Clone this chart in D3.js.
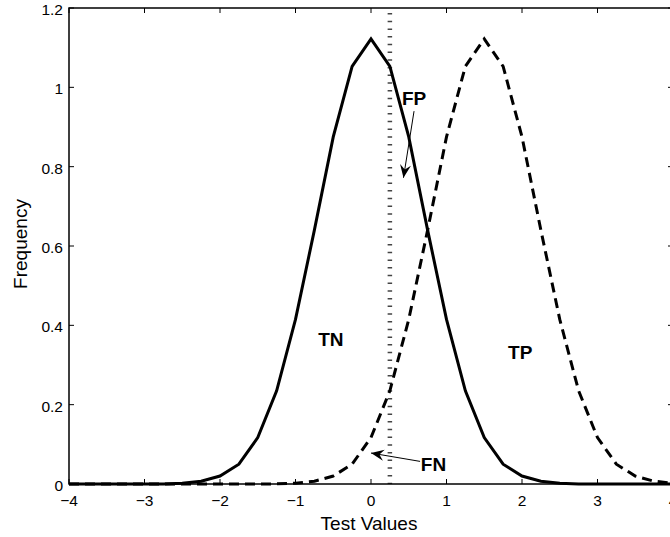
<!DOCTYPE html>
<html>
<head>
<meta charset="utf-8">
<script src="https://cdn.jsdelivr.net/npm/d3@7"></script>
<style>
  body { margin: 0; background: #fff; }
  svg { display: block; font-family: 'Liberation Sans', Arial, Helvetica, sans-serif; }
</style>
</head>
<body>
<div id="chart"></div>
<script>
'use strict';

// test values sampled every 0.25 from -4 to 4
const xValues = [
  -4, -3.75, -3.5, -3.25, -3, -2.75, -2.5, -2.25, -2, -1.75, -1.5, -1.25, -1,
  -0.75, -0.5, -0.25, 0, 0.25, 0.5, 0.75, 1, 1.25, 1.5, 1.75, 2, 2.25, 2.5,
  2.75, 3, 3.25, 3.5, 3.75, 4
];

// negative population (solid line)
const negFreq = [
  0, 0, 0, 0, 0.0001, 0.0003, 0.002, 0.007, 0.02, 0.05, 0.117, 0.235, 0.415,
  0.64, 0.875, 1.053, 1.122, 1.053, 0.875, 0.64, 0.415, 0.235, 0.117, 0.05,
  0.02, 0.007, 0.002, 0.0003, 0.0001, 0, 0, 0, 0
];

// positive population (dashed line)
const posFreq = [
  0, 0, 0, 0, 0, 0, 0, 0, 0, 0, 0.0001, 0.0003, 0.002, 0.007, 0.02, 0.05,
  0.117, 0.235, 0.415, 0.64, 0.875, 1.053, 1.122, 1.053, 0.875, 0.64, 0.415,
  0.235, 0.117, 0.05, 0.02, 0.007, 0.002
];

const threshold = 0.25;

const xTicks = [-4, -3, -2, -1, 0, 1, 2, 3, 4];
const yTicks = [0, 0.2, 0.4, 0.6, 0.8, 1, 1.2];

// region labels (data coordinates)
const labels = [
  { text: 'TN', x: -0.70, y: 0.347 },
  { text: 'TP', x: 1.815, y: 0.316 },
  { text: 'FP', x: 0.41, y: 0.955 },
  { text: 'FN', x: 0.66, y: 0.034 }
];

// annotation arrows: tail -> tip (data coordinates)
const arrows = [
  { x1: 0.57, y1: 0.94, x2: 0.43, y2: 0.772 },
  { x1: 0.65, y1: 0.057, x2: 0.0, y2: 0.078 }
];

const width = 670;
const height = 537;
const plot = { left: 69, right: 673, top: 8, bottom: 484 };

const svg = d3.select('#chart')
  .append('svg')
  .attr('width', width)
  .attr('height', height);

const xScale = d3.scaleLinear().domain([-4, 4]).range([plot.left, plot.right]);
const yScale = d3.scaleLinear().domain([0, 1.2]).range([plot.bottom, plot.top]);

svg.append('defs')
  .append('marker')
  .attr('id', 'head')
  .attr('viewBox', '-14 -7 16 14')
  .attr('refX', 0)
  .attr('refY', 0)
  .attr('markerUnits', 'userSpaceOnUse')
  .attr('markerWidth', 16)
  .attr('markerHeight', 14)
  .attr('orient', 'auto')
  .append('path')
  .attr('d', 'M0,0 L-13,-5.5 L-8.5,0 L-13,5.5 Z')
  .attr('fill', '#000');

// ticks on all four sides, pointing inward
const tickLen = 5;
const ticks = svg.append('g').attr('stroke', '#000').attr('stroke-width', 1);
xTicks.forEach(t => {
  ticks.append('line')
    .attr('x1', xScale(t)).attr('x2', xScale(t))
    .attr('y1', plot.bottom).attr('y2', plot.bottom - tickLen);
  ticks.append('line')
    .attr('x1', xScale(t)).attr('x2', xScale(t))
    .attr('y1', plot.top).attr('y2', plot.top + tickLen);
});
yTicks.forEach(t => {
  ticks.append('line')
    .attr('x1', plot.left).attr('x2', plot.left + tickLen)
    .attr('y1', yScale(t)).attr('y2', yScale(t));
  ticks.append('line')
    .attr('x1', plot.right).attr('x2', plot.right - tickLen)
    .attr('y1', yScale(t)).attr('y2', yScale(t));
});

// threshold (dotted)
svg.append('line')
  .attr('x1', xScale(threshold)).attr('x2', xScale(threshold))
  .attr('y1', plot.top + 5).attr('y2', plot.bottom)
  .attr('stroke', '#444')
  .attr('stroke-width', 4.5)
  .attr('stroke-dasharray', '1.5,6.2');

const line = d3.line()
  .x(d => xScale(d[0]))
  .y(d => yScale(d[1]));

svg.append('path')
  .datum(d3.zip(xValues, posFreq))
  .attr('d', line)
  .attr('fill', 'none')
  .attr('stroke', '#000')
  .attr('stroke-width', 3)
  .attr('stroke-dasharray', '10,6');

svg.append('path')
  .datum(d3.zip(xValues, negFreq))
  .attr('d', line)
  .attr('fill', 'none')
  .attr('stroke', '#000')
  .attr('stroke-width', 3);

// box
svg.append('rect')
  .attr('x', plot.left).attr('y', plot.top)
  .attr('width', plot.right - plot.left)
  .attr('height', plot.bottom - plot.top)
  .attr('fill', 'none')
  .attr('stroke', '#000')
  .attr('stroke-width', 1.5);

// tick labels
svg.append('g')
  .selectAll('text')
  .data(xTicks)
  .enter()
  .append('text')
  .attr('x', d => xScale(d))
  .attr('y', 506)
  .attr('text-anchor', 'middle')
  .style('font-size', '15.5px')
  .text(d => d3.format('')(d).replace('-', '\u2212'));

svg.append('g')
  .selectAll('text')
  .data(yTicks)
  .enter()
  .append('text')
  .attr('x', 63)
  .attr('y', d => yScale(d) + 7)
  .attr('text-anchor', 'end')
  .style('font-size', '15.5px')
  .text(d => d3.format('')(d));

// axis titles
svg.append('text')
  .attr('x', (plot.left + plot.right) / 2 - 2)
  .attr('y', 530)
  .attr('text-anchor', 'middle')
  .style('font-size', '19px')
  .text('Test Values');

svg.append('text')
  .attr('transform', 'translate(27, 244)rotate(-90)')
  .attr('text-anchor', 'middle')
  .style('font-size', '19px')
  .text('Frequency');

// region labels
svg.append('g')
  .selectAll('text')
  .data(labels)
  .enter()
  .append('text')
  .attr('x', d => xScale(d.x))
  .attr('y', d => yScale(d.y))
  .style('font-size', '19px')
  .style('font-weight', 'bold')
  .text(d => d.text);

// arrows
svg.append('g')
  .selectAll('line')
  .data(arrows)
  .enter()
  .append('line')
  .attr('x1', d => xScale(d.x1))
  .attr('y1', d => yScale(d.y1))
  .attr('x2', d => xScale(d.x2))
  .attr('y2', d => yScale(d.y2))
  .attr('stroke', '#000')
  .attr('stroke-width', 1)
  .attr('marker-end', 'url(#head)');
</script>
</body>
</html>
